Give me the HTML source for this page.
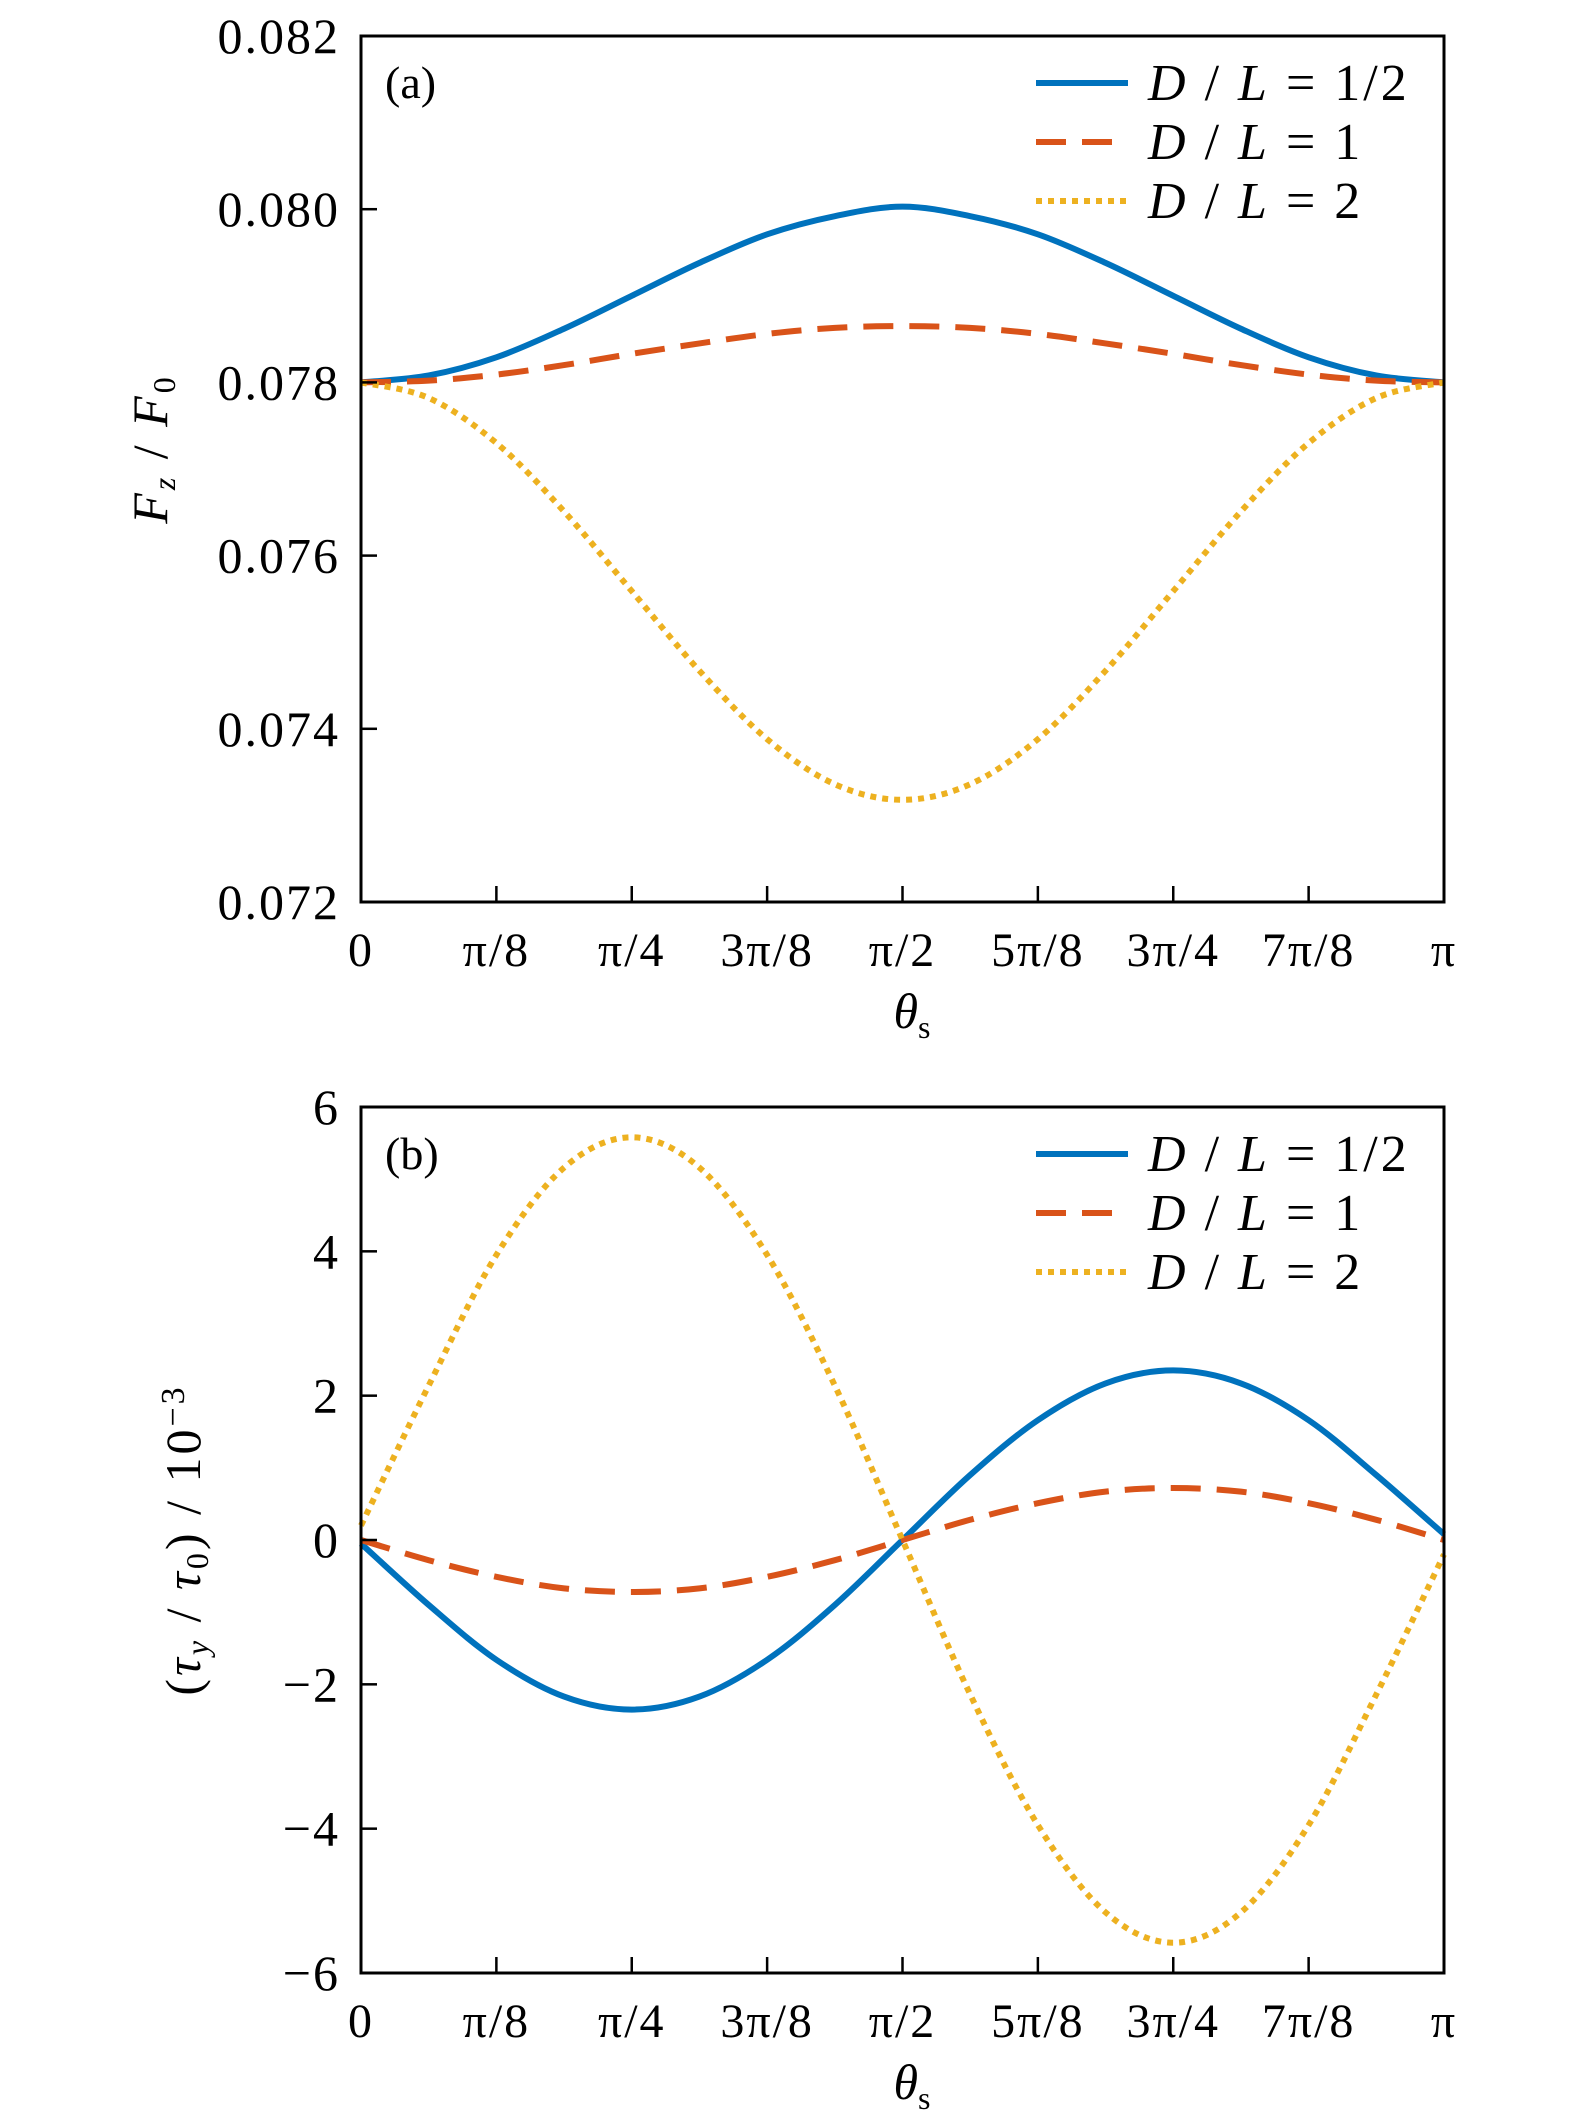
<!DOCTYPE html>
<html><head><meta charset="utf-8"><style>
html,body{margin:0;padding:0;background:#fff;}
svg{display:block;font-family:"Liberation Serif",serif;}
</style></head><body>
<svg id="chart" width="1575" height="2126" viewBox="0 0 1575 2126" xmlns="http://www.w3.org/2000/svg"></svg>
<script>
// Shared x samples: theta in units of pi/16 (0..16)
const xSteps = [0,1,2,3,4,5,6,7,8,9,10,11,12,13,14,15,16];
const xTickLabels = ["0","π/8","π/4","3π/8","π/2","5π/8","3π/4","7π/8","π"];
const legendLabels = ["D/L = 1/2","D/L = 1","D/L = 2"];

// Panel (a): F_z/F_0
const aYTicks = [0.072,0.074,0.076,0.078,0.080,0.082];
const aBlue   = [0.0780,0.07808,0.07829,0.07862,0.0790,0.07938,0.07971,0.07992,0.08003,0.07992,0.07971,0.07938,0.0790,0.07862,0.07829,0.07808,0.0780];
const aRed    = [0.0780,0.07802,0.07809,0.0782,0.07833,0.07845,0.07856,0.07863,0.07865,0.07863,0.07856,0.07845,0.07833,0.0782,0.07809,0.07802,0.0780];
const aYellow = [0.0780,0.07782,0.0773,0.07651,0.07559,0.07467,0.07388,0.07336,0.07318,0.07336,0.07388,0.07467,0.07559,0.07651,0.0773,0.07782,0.0780];

// Panel (b): (tau_y/tau_0)/10^-3
const bYTicks = [-6,-4,-2,0,2,4,6];
const bBlue   = [-0.05,-0.9,-1.66,-2.17,-2.35,-2.17,-1.66,-0.9,0,0.9,1.66,2.17,2.35,2.17,1.66,0.9,0.08];
const bRed    = [0,-0.28,-0.51,-0.67,-0.72,-0.67,-0.51,-0.28,0,0.28,0.51,0.67,0.72,0.67,0.51,0.28,0];
const bYellow = [0.2,2.14,3.95,5.16,5.58,5.16,3.95,2.14,0,-2.14,-3.95,-5.16,-5.58,-5.16,-3.95,-2.14,-0.2];

const NS="http://www.w3.org/2000/svg";
const svg=document.getElementById('chart');
function mk(tag,attrs,parent){const e=document.createElementNS(NS,tag);for(const k in attrs)e.setAttribute(k,attrs[k]);(parent||svg).appendChild(e);return e;}

const L=361,R=1444;
const styles=[
 {color:"#0072BD",dash:"none",name:"blue"},
 {color:"#D95319",dash:"30 16",name:"red"},
 {color:"#EDB120",dash:"6 6",name:"yellow"}
];

function smoothPath(pts){
  let d="M"+pts[0][0]+","+pts[0][1];
  for(let i=0;i<pts.length-1;i++){
    const p0=pts[Math.max(0,i-1)],p1=pts[i],p2=pts[i+1],p3=pts[Math.min(pts.length-1,i+2)];
    const c1x=p1[0]+(p2[0]-p0[0])/6,c1y=p1[1]+(p2[1]-p0[1])/6;
    const c2x=p2[0]-(p3[0]-p1[0])/6,c2y=p2[1]-(p3[1]-p1[1])/6;
    d+=" C"+c1x.toFixed(2)+","+c1y.toFixed(2)+" "+c2x.toFixed(2)+","+c2y.toFixed(2)+" "+p2[0].toFixed(2)+","+p2[1].toFixed(2);
  }
  return d;
}

function panel(cfg){
  const g=mk('g',{});
  
  
  const T=cfg.top,B=cfg.bottom;
  const ymin=cfg.yTicks[0],ymax=cfg.yTicks[cfg.yTicks.length-1];
  const xs=v=>L+(R-L)*v/16;
  const ys=v=>B-(B-T)*(v-ymin)/(ymax-ymin);
  const series=[cfg.blue,cfg.red,cfg.yellow];
  series.forEach((arr,si)=>{
    const pts=arr.map((v,i)=>[xs(xSteps[i]),ys(v)]);
    const p=mk('path',{d:smoothPath(pts),fill:"none",stroke:styles[si].color,"stroke-width":6,"stroke-dasharray":styles[si].dash},g);
    
    
  });
  const fr=mk('rect',{x:L,y:T,width:R-L,height:B-T,fill:"none",stroke:"#000","stroke-width":3},g);
  
  
  xTickLabels.forEach((lab,i)=>{
    const x=xs(i*2);
    if(i>0&&i<8){const t=mk('line',{x1:x,x2:x,y1:B,y2:B-16,stroke:"#000","stroke-width":2.5},g);
      
      }
    const tx=mk('text',{x:x,y:B+64,"font-size":48,"text-anchor":"middle","letter-spacing":2},g);
    tx.textContent=lab;
    
    
  });
  cfg.yTicks.forEach((v,i)=>{
    const y=ys(v);
    if(i>0&&i<cfg.yTicks.length-1){const t=mk('line',{x1:L,x2:L+16,y1:y,y2:y,stroke:"#000","stroke-width":2.5},g);
      
      }
    const tx=mk('text',{x:340,y:y+17,"font-size":50,"text-anchor":"end","letter-spacing":2},g);
    tx.textContent=cfg.fmt(v);
    
    
  });
  const xt=mk('text',{x:912,y:B+126,"font-size":50,"text-anchor":"middle","font-style":"italic"},g);
  xt.innerHTML='θ<tspan font-style="normal" font-size="32" dy="10">s</tspan>';
  
  
  const yt=mk('text',{x:0,y:0,"font-size":50,"text-anchor":"middle","letter-spacing":3,transform:"translate("+cfg.ytx+","+((T+B)/2+cfg.ydy)+") rotate(-90)"},g);
  yt.innerHTML=cfg.ytitle;
  
  
  const pl=mk('text',{x:385,y:T+62,"font-size":46},g);
  pl.textContent=cfg.label;
  
  
  legendLabels.forEach((lab,i)=>{
    const y=T+47+i*59;
    const ln=mk('line',{x1:1036,x2:1128,y1:y,y2:y,stroke:styles[i].color,"stroke-width":6,"stroke-dasharray":styles[i].dash},g);
    
    
    const parts=lab.split(' = ');
    const tx=mk('text',{x:1148,y:y+17,"font-size":52,"letter-spacing":3},g);
    tx.innerHTML='<tspan font-style="italic">D</tspan> / <tspan font-style="italic">L</tspan> = '+parts[1].replace('/',' / ').replace(' / ','/');
    
    
  });
}

panel({name:"panel-a",prefix:"a",top:36,bottom:902,yTicks:aYTicks,blue:aBlue,red:aRed,yellow:aYellow,
  fmt:v=>v.toFixed(3),label:"(a)",ytx:167,ydy:-20,
  ytitle:'<tspan font-style="italic">F</tspan><tspan font-style="italic" font-size="32" dy="8">z</tspan><tspan dy="-8"> / </tspan><tspan font-style="italic">F</tspan><tspan font-size="32" dy="8">0</tspan>'});
panel({name:"panel-b",prefix:"b",top:1107,bottom:1973,yTicks:bYTicks,blue:bBlue,red:bRed,yellow:bYellow,
  fmt:v=>v<0?"−"+Math.abs(v):String(v),label:"(b)",ytx:200,ydy:0,
  ytitle:'(<tspan font-style="italic">τ</tspan><tspan font-style="italic" font-size="32" dy="8">y</tspan><tspan dy="-8"> / </tspan><tspan font-style="italic">τ</tspan><tspan font-size="32" dy="8">0</tspan><tspan dy="-8">) / 10</tspan><tspan font-size="34" dy="-16">−3</tspan>'});
</script>
</body></html>
